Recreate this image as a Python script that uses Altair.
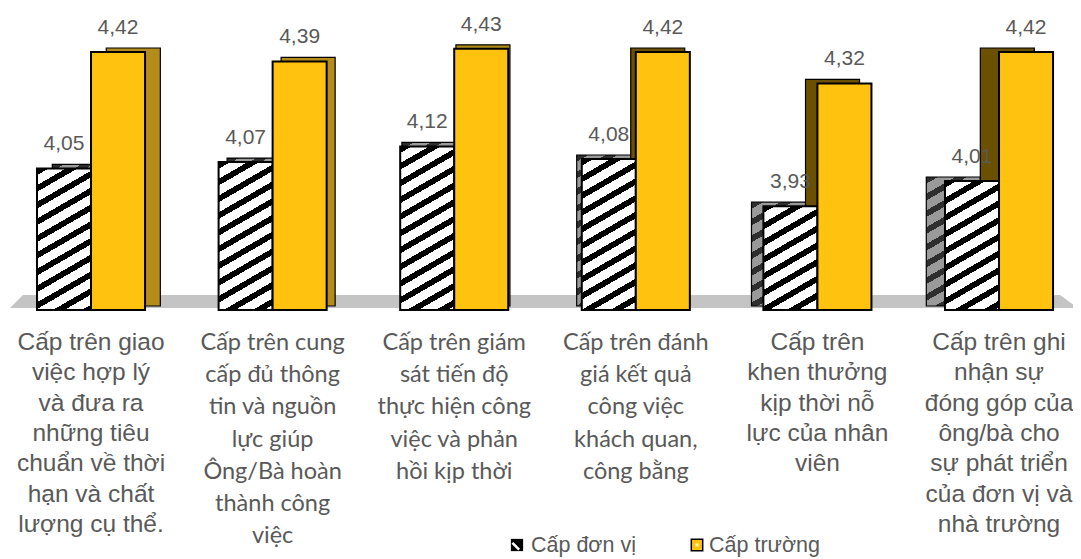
import math
import altair as alt

# ---------------- data ----------------
categories = [
    "Cấp trên giao\nviệc hợp lý\nvà đưa ra\nnhững tiêu\nchuẩn về thời\nhạn và chất\nlượng cụ thể.",
    "Cấp trên cung\ncấp đủ thông\ntin và nguồn\nlực giúp\nÔng/Bà hoàn\nthành công\nviệc",
    "Cấp trên giám\nsát tiến độ\nthực hiện công\nviệc và phản\nhồi kịp thời",
    "Cấp trên đánh\ngiá kết quả\ncông việc\nkhách quan,\ncông bằng",
    "Cấp trên\nkhen thưởng\nkịp thời nỗ\nlực của nhân\nviên",
    "Cấp trên ghi\nnhận sự\nđóng góp của\nông/bà cho\nsự phát triển\ncủa đơn vị và\nnhà trường",
]
label_font_group = ["arial", "calibri", "calibri", "calibri", "arial", "arial"]
series = ["Cấp đơn vị", "Cấp trường"]
don_vi = [4.05, 4.07, 4.12, 4.08, 3.93, 4.01]
truong = [4.42, 4.39, 4.43, 4.42, 4.32, 4.42]

# ---------------- layout / style ----------------
STEP = 181.6          # pixels per category
X0 = -7.78            # pixel position of x = 0
PAIR = 0.595          # width of the bar pair, in category units
BW = PAIR / 2
Y_MIN, Y_MAX = 3.6, 4.42
Y_BOT, Y_TOP = 302, 44
PX = (Y_BOT - Y_TOP) / (Y_MAX - Y_MIN)
YELLOW = "#FFC20E"
GREY_TXT = "#595959"


def hatch(w, h, dark, light, theta=30, period=14.5, frac=0.4):
    """Diagonal stripes as a linear gradient in bounding-box units."""
    t = math.radians(theta)
    s, c = math.sin(t), math.cos(t)
    L = w * s + h * c
    lam = L / ((w * s) ** 2 + (h * c) ** 2)
    stops = []
    k = 0
    while k * period < L:
        a = round(k * period / L, 5)
        b = round(min((k + frac) * period / L, 1), 5)
        e = round(min((k + 1) * period / L, 1), 5)
        stops += [
            {"offset": a, "color": dark},
            {"offset": b, "color": dark},
            {"offset": b, "color": light},
            {"offset": e, "color": light},
        ]
        k += 1
    return {"gradient": "linear", "x1": 0, "y1": 0,
            "x2": round(lam * w * s, 6), "y2": round(lam * h * c, 6),
            "stops": stops}


rows = []
for i, cat in enumerate(categories):
    for j, v in enumerate([don_vi[i], truong[i]]):
        h = (v - Y_MIN) * PX
        rows.append({
            "cat": cat, "idx": i, "sidx": j, "series": series[j], "value": v,
            "front": hatch(BW * STEP, h, "#000000", "#ffffff") if j == 0 else YELLOW,
            "hside": hatch(BW * STEP, h, "#2e2e2e", "#9a9a9a") if j == 0 else "none",
        })

bars = alt.Data(values=rows)
labels = alt.Data(values=[{"cat": c, "idx": i, "fg": f}
                          for i, (c, f) in enumerate(zip(categories, label_font_group))])
one = alt.Data(values=[{"k": 0}])

xscale = alt.Scale(domain=[0, 6], range=[X0, X0 + 6 * STEP], nice=False, zero=False)
yscale = alt.Scale(domain=[Y_MIN, Y_MAX], range=[Y_BOT, Y_TOP], nice=False, zero=False)

base = alt.Chart(bars).transform_calculate(
    xs=f"datum.idx + 0.5 - {PAIR / 2} + datum.sidx * {BW}",
).transform_calculate(
    xe=f"datum.xs + {BW}",
    sd=f"(2.25 - datum.idx) * 6.8 / {STEP}",
).transform_calculate(
    xm="(datum.xs + datum.xe) / 2",
    sxs="datum.xs + datum.sd",
    sxe="datum.xe + datum.sd",
    sfill="datum.sidx == 0 ? datum.hside : (datum.sd > 0 ? '#B38C1A' : '#6A5000')",
    lab="replace(format(datum.value, '.2f'), '.', ',')",
)

# floor (grey slab)
floor = alt.Chart(one).mark_point(
    shape="M -0.9757 -0.0122 L 0.9663 -0.0122 L 1 0.0122 L -1 0.0122 Z",
    filled=True, opacity=1, strokeWidth=0, color="#C4C4C4",
).encode(x=alt.value(536), y=alt.value(293.5), size=alt.value(1068 ** 2))

sides = base.mark_rect(yOffset=-4, y2Offset=-4, stroke="black", strokeWidth=1.2).encode(
    x=alt.X("sxs:Q", scale=xscale, axis=None),
    x2="sxe:Q",
    y=alt.Y("value:Q", scale=yscale, axis=None),
    y2=alt.datum(Y_MIN),
    color=alt.Color("sfill:N", scale=None),
)

fronts = base.mark_rect(stroke="black", strokeWidth=2).encode(
    x=alt.X("xs:Q", scale=xscale, axis=None),
    x2="xe:Q",
    y=alt.Y("value:Q", scale=yscale, axis=None),
    y2=alt.datum(Y_MIN),
    color=alt.Color("front:N", scale=None),
)

values = base.mark_text(
    font="Liberation Sans", fontSize=21, color=GREY_TXT, baseline="alphabetic",
    align="center", dy=-18,
).encode(
    x=alt.X("xm:Q", scale=xscale, axis=None),
    y=alt.Y("value:Q", scale=yscale, axis=None),
    text="lab:N",
)

lab_base = alt.Chart(labels).transform_calculate(xc="datum.idx + 0.5")
cat_arial = lab_base.transform_filter("datum.fg == 'arial'").mark_text(
    font="Liberation Sans", fontSize=24.5, lineHeight=30.3, lineBreak="\n",
    color=GREY_TXT, align="center", baseline="alphabetic",
).encode(x=alt.X("xc:Q", scale=xscale, axis=None), y=alt.value(342), text="cat:N")
cat_cal = lab_base.transform_filter("datum.fg == 'calibri'").mark_text(
    font="Lato", fontSize=23.5, lineHeight=32.2, lineBreak="\n",
    color=GREY_TXT, align="center", baseline="alphabetic",
).encode(x=alt.X("xc:Q", scale=xscale, axis=None), y=alt.value(342), text="cat:N")

# legend (drawn manually)
leg_sq1 = alt.Chart(one).mark_point(shape="square", filled=True, color="black", opacity=1).encode(
    x=alt.value(509), y=alt.value(537), size=alt.value(150))
leg_diag = alt.Chart(one).mark_point(shape="M -0.75 -0.35 L 0.35 0.75", filled=False,
                                     stroke="white", strokeWidth=2.5, opacity=1).encode(
    x=alt.value(509), y=alt.value(537), size=alt.value(150))
leg_sq2 = alt.Chart(one).mark_point(shape="square", filled=True, fill=YELLOW, stroke="black",
                                    strokeWidth=1.5, opacity=1).encode(
    x=alt.value(689), y=alt.value(537), size=alt.value(130))
leg_dot = alt.Chart(one).mark_point(shape="square", filled=True, color="#FFF3B0", opacity=1).encode(
    x=alt.value(689), y=alt.value(537), size=alt.value(10))
leg_t1 = alt.Chart(one).mark_text(font="Liberation Sans", fontSize=21.5, color=GREY_TXT,
                                  align="left", baseline="alphabetic").encode(
    x=alt.value(523), y=alt.value(544), text=alt.value(series[0]))
leg_t2 = alt.Chart(one).mark_text(font="Liberation Sans", fontSize=21.5, color=GREY_TXT,
                                  align="left", baseline="alphabetic").encode(
    x=alt.value(701), y=alt.value(544), text=alt.value(series[1]))

chart = alt.layer(
    floor, sides, fronts, values, cat_arial, cat_cal,
    leg_sq1, leg_diag, leg_sq2, leg_dot, leg_t1, leg_t2,
).properties(
    width=1065, height=551, padding=0,
    autosize=alt.AutoSizeParams(type="none"),
).configure_view(stroke=None)

chart.save("out.html", embed_options={"renderer": "svg", "actions": False})
